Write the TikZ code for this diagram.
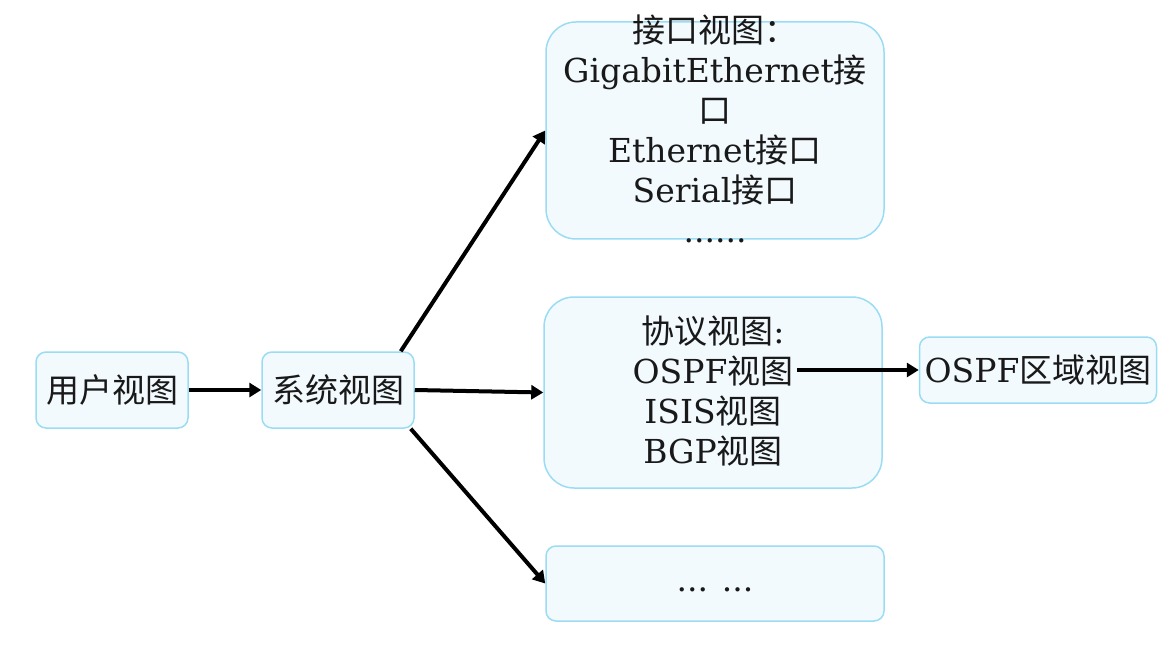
\documentclass[tikz,border=0pt]{standalone}
\usepackage{fontspec}
\setmainfont{DejaVu Serif}
\newfontfamily\cjk{Noto Sans CJK SC}
\newcommand\zh[1]{{\cjk #1}}
\usetikzlibrary{arrows.meta}
\definecolor{boxline}{RGB}{155,220,245}
\definecolor{boxfill}{RGB}{242,250,254}
\definecolor{inkc}{RGB}{25,25,25}

\begin{document}
\begin{tikzpicture}[x=1pt, y=-1pt,
   every node/.style={text=inkc, font=\fontsize{33}{40}\selectfont, align=center, inner sep=0pt},
   viewbox/.style={draw=boxline, fill=boxfill, line width=1.5pt, rounded corners=10pt},
   bigbox/.style={viewbox, rounded corners=30pt},
   link/.style={-{Triangle[length=12pt, width=14pt]}, line width=4pt}]

\useasboundingbox (0,0) rectangle (1174,660);

% left side
\node[viewbox, minimum width=152pt, minimum height=76pt] (user) at (112,390) {\zh{用户视图}};
\node[viewbox, minimum width=152pt, minimum height=76pt] (sys) at (338,390) {\zh{系统视图}};

% right side boxes
\node[bigbox, minimum width=338pt, minimum height=217pt] (ifc) at (715,130.5) {};
\node (ifctext) at (715,129) {\zh{接口视图：}\\ GigabitEthernet\zh{接}\\ \zh{口}\\ Ethernet\zh{接口}\\ Serial\zh{接口}\\ ......};

\node[bigbox, minimum width=338pt, minimum height=191pt] (proto) at (713,392.5) {};
\node (prototext) at (713,391) {\zh{协议视图}:\\ OSPF\zh{视图}\\ ISIS\zh{视图}\\ BGP\zh{视图}};
\coordinate (ospfend) at (797,370);

\node[viewbox, minimum width=237pt, minimum height=66pt] (area) at (1038,370) {OSPF\zh{区域视图}};
\node[viewbox, minimum width=338pt, minimum height=75pt] (more) at (715,583.5) {\strut... ...};

% arrows
\draw[link] (user) -- (sys);
\draw[link] ([xshift=-14pt]sys.north east) -- (ifc.west);
\draw[link] (sys.east) -- (proto.west);
\draw[link] ([xshift=-4pt]sys.south east) -- (more.west);
\draw[link] (ospfend) -- (area.west);

\end{tikzpicture}
\end{document}
